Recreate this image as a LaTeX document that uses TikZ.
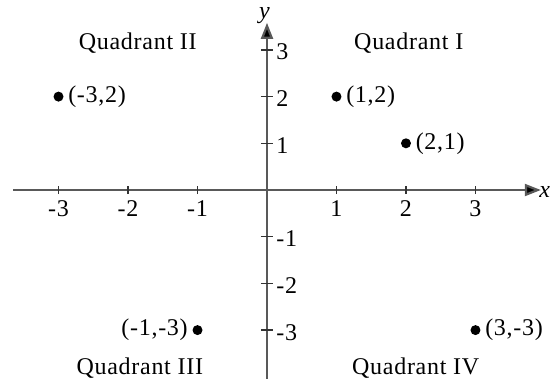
\documentclass[tikz,border=0pt]{standalone}
\usepackage{fontspec}
\setmainfont{Liberation Serif}[LetterSpace=3]
\usepackage{tikz}
\usetikzlibrary{arrows.meta,positioning}
\newcommand{\plotfont}{\fontsize{12}{14}\selectfont}
\tikzset{
  axisline/.style={draw=black!65, line width=1.1pt, -{Triangle[length=8pt,width=6pt,fill=black]}},
  axislabel/.style={font=\plotfont, inner sep=0pt},
  ticks/.style={draw=black!80, line width=0.6pt},
  ticklabel/.style={font=\plotfont, inner sep=0pt},
  dot/.style={circle, fill=black, inner sep=0pt, minimum size=5pt},
  ptlabel/.style={font=\plotfont, inner sep=1pt},
  quadlabel/.style={font=\plotfont, inner sep=1pt}
}

\begin{document}
\begin{tikzpicture}[x=34.75pt,y=23.35pt]
  \useasboundingbox (-3.842,-4.047) rectangle (4.101,4.069);

  % axes
  \coordinate (xstart) at (-3.65,0);
  \coordinate (xend) at (3.94,0);
  \coordinate (ystart) at (0,-4.1);
  \coordinate (yend) at (0,3.58);
  \draw[axisline] (xstart) -- (xend);
  \draw[axisline] (ystart) -- (yend);
  \node[axislabel] (xlab) at (4.0,-0.05) {\textit{x}};
  \node[axislabel] (ylab) at (-0.03,3.74) {\textit{y}};

  % ticks and numbers
  \foreach \x in {-3,-2,-1,1,2,3} {
    \draw[ticks] (\x,0) ++(0,-2pt) -- ++(0,4pt);
    \node[ticklabel, anchor=base] at ([yshift=-13pt]\x,0) {\x};
  }
  \foreach \y in {-3,-2,-1,1,2,3} {
    \draw[ticks] (0,\y) ++(-3pt,0) -- ++(6pt,0);
    \node[ticklabel, anchor=base west] at ([xshift=4.5pt,yshift=-5pt]0,\y) {\y};
  }

  % points
  \node[dot] (pA) at (-3,2) {};
  \node[ptlabel, right=1pt of pA] (pAlab) {(-3,2)};
  \node[dot] (pB) at (1,2) {};
  \node[ptlabel, right=1pt of pB] (pBlab) {(1,2)};
  \node[dot] (pC) at (2,1) {};
  \node[ptlabel, right=1pt of pC] (pClab) {(2,1)};
  \node[dot] (pD) at (-1,-3) {};
  \node[ptlabel, left=1pt of pD] (pDlab) {(-1,-3)};
  \node[dot] (pE) at (3,-3) {};
  \node[ptlabel, right=1pt of pE] (pElab) {(3,-3)};

  % quadrant names
  \node[quadlabel] (q1) at (2.04,3.15) {Quadrant I};
  \node[quadlabel] (q2) at (-1.86,3.15) {Quadrant II};
  \node[quadlabel] (q3) at (-1.83,-3.81) {Quadrant III};
  \node[quadlabel] (q4) at (2.14,-3.81) {Quadrant IV};
\end{tikzpicture}
\end{document}
